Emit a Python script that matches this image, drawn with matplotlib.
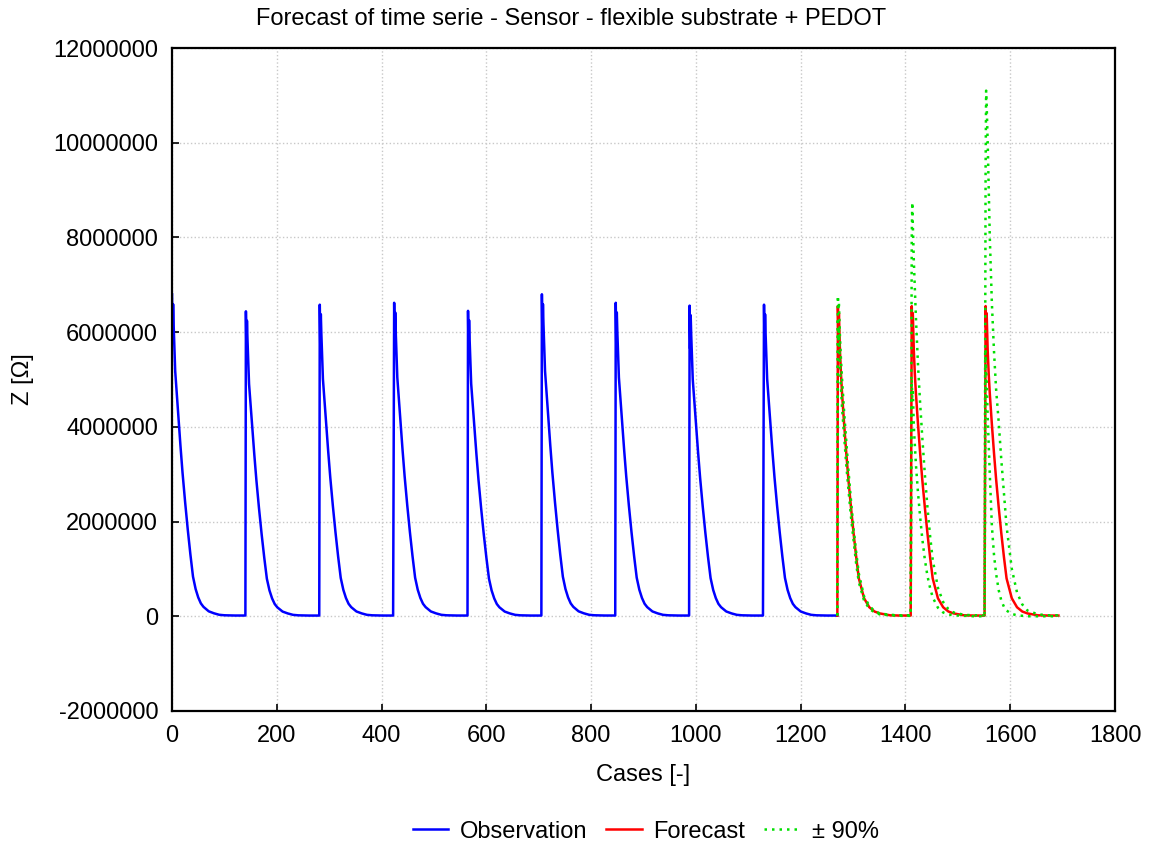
import numpy as np
import matplotlib.pyplot as plt

plt.rcParams['font.family'] = ['Liberation Sans', 'DejaVu Sans']
plt.rcParams['axes.unicode_minus'] = False

# observed pulses: start case and peak value
obs_starts = [0, 141, 282, 424, 565, 706, 847, 988, 1130]
obs_peaks = [6.80e6, 6.44e6, 6.58e6, 6.62e6, 6.45e6, 6.80e6, 6.62e6, 6.56e6, 6.58e6]
obs_end = 1270

# decay of one pulse (offset in cases, value for a 6.5e6 peak)
obs_off = [0, 1, 2, 3, 6, 9, 12, 16, 20, 25, 30, 35, 40, 45, 50, 55, 60, 70, 80, 90, 100, 120, 140]
obs_prof = [6.5e6, 5.6e6, 6.3e6, 5.9e6, 4.95e6, 4.5e6, 4.05e6, 3.45e6, 2.9e6, 2.3e6, 1.75e6,
            1.25e6, 0.8e6, 0.55e6, 0.38e6, 0.26e6, 0.19e6, 0.1e6, 0.06e6, 0.03e6, 0.02e6,
            0.015e6, 0.015e6]

# forecast pulses
fc_starts = [1271, 1412, 1553]
fc_end = 1692
fc_off = [0, 1, 2, 4, 6, 8, 12, 16, 20, 25, 30, 35, 40, 50, 60, 70, 80, 100, 120, 139]
fc_mid = [6.55, 6.1, 6.4, 5.6, 5.1, 4.7, 4.05, 3.45, 2.9, 2.3, 1.75, 1.25, 0.8, 0.38, 0.19,
          0.1, 0.06, 0.02, 0.015, 0.015]
fc_up1 = [6.77, 6.5, 6.6, 5.9, 5.4, 5.0, 4.3, 3.7, 3.1, 2.45, 1.85, 1.35, 0.9, 0.42, 0.22,
          0.11, 0.06, 0.03, 0.02, 0.02]
fc_lo1 = [6.3, 5.8, 6.1, 5.3, 4.8, 4.4, 3.8, 3.2, 2.7, 2.1, 1.6, 1.1, 0.72, 0.33, 0.16,
          0.08, 0.04, 0.02, 0.01, 0.01]
fc_up2 = [8.0, 8.74, 8.3, 7.5, 6.9, 6.3, 5.3, 4.5, 3.8, 3.0, 2.3, 1.7, 1.2, 0.6, 0.3,
          0.15, 0.08, 0.03, 0.02, 0.02]
fc_lo2 = [5.0, 4.6, 4.8, 4.0, 3.6, 3.2, 2.6, 2.1, 1.65, 1.2, 0.85, 0.6, 0.4, 0.18, 0.08,
          0.04, 0.02, 0.01, 0.0, 0.0]
fc_up3 = [9.5, 11.1, 10.8, 10.0, 9.0, 8.0, 6.6, 5.6, 4.8, 4.1, 3.3, 2.6, 1.9, 1.0, 0.5,
          0.25, 0.12, 0.04, 0.02, 0.02]
fc_lo3 = [5.6, 5.2, 5.0, 4.2, 3.6, 3.0, 1.9, 1.3, 0.9, 0.55, 0.33, 0.2, 0.12, 0.05, 0.02,
          0.01, 0.0, 0.0, 0.0, 0.0]

# build observation series
ox, oy = [], []
for s, p in zip(obs_starts, obs_peaks):
    for o, v in zip(obs_off, obs_prof):
        ox.append(s + o)
        oy.append(v * p / 6.5e6)
ox.append(obs_end)
oy.append(obs_prof[-1])

# build forecast series
fx, fm, fu, fl = [obs_end], [obs_prof[-1]], [obs_prof[-1]], [obs_prof[-1]]
for s, up, lo in zip(fc_starts, [fc_up1, fc_up2, fc_up3], [fc_lo1, fc_lo2, fc_lo3]):
    for i, o in enumerate(fc_off):
        fx.append(s + o)
        fm.append(fc_mid[i] * 1e6)
        fu.append(up[i] * 1e6)
        fl.append(lo[i] * 1e6)
fx.append(fc_end)
fm.append(fc_mid[-1] * 1e6)
fu.append(fc_up3[-1] * 1e6)
fl.append(fc_lo3[-1] * 1e6)

fig = plt.figure(figsize=(11.57, 8.47), dpi=100)
ax = fig.add_axes([0.1487, 0.1606, 0.815, 0.7827])

ax.plot(ox, oy, color='#0000ff', lw=1.8, label='Observation')
ax.plot(fx, fm, color='#ff0000', lw=1.8, label='Forecast')
ax.plot(fx, fu, color='#00e000', lw=1.8, ls=(0, (1, 2)), label='± 90%')
ax.plot(fx, fl, color='#00e000', lw=1.8, ls=(0, (1, 2)))

ax.set_xlim(0, 1800)
ax.set_ylim(-2000000, 12000000)
ax.set_xticks(np.arange(0, 1801, 200))
ax.set_yticks(np.arange(-2000000, 12000001, 2000000))
ax.ticklabel_format(style='plain', useOffset=False)
ax.grid(True, color='#c8c8c8', ls=':', lw=1)
ax.tick_params(direction='in', length=5, width=1.2, labelsize=17)
ax.tick_params(axis='y', pad=10)
ax.tick_params(axis='x', pad=10)
for sp in ax.spines.values():
    sp.set_linewidth(1.6)

ax.set_xlabel('Cases [-]', fontsize=17, labelpad=12)
ax.set_ylabel('Z [Ω]', fontsize=17, labelpad=14)
fig.text(0.494, 0.978, 'Forecast of time serie - Sensor - flexible substrate + PEDOT',
         ha='center', va='center', fontsize=17)

fig.legend(loc='center', bbox_to_anchor=(0.558, 0.018), ncol=3, frameon=False,
           fontsize=17, handlelength=1.5, handletextpad=0.5, columnspacing=0.8)

fig.savefig('out.png', dpi=100)
